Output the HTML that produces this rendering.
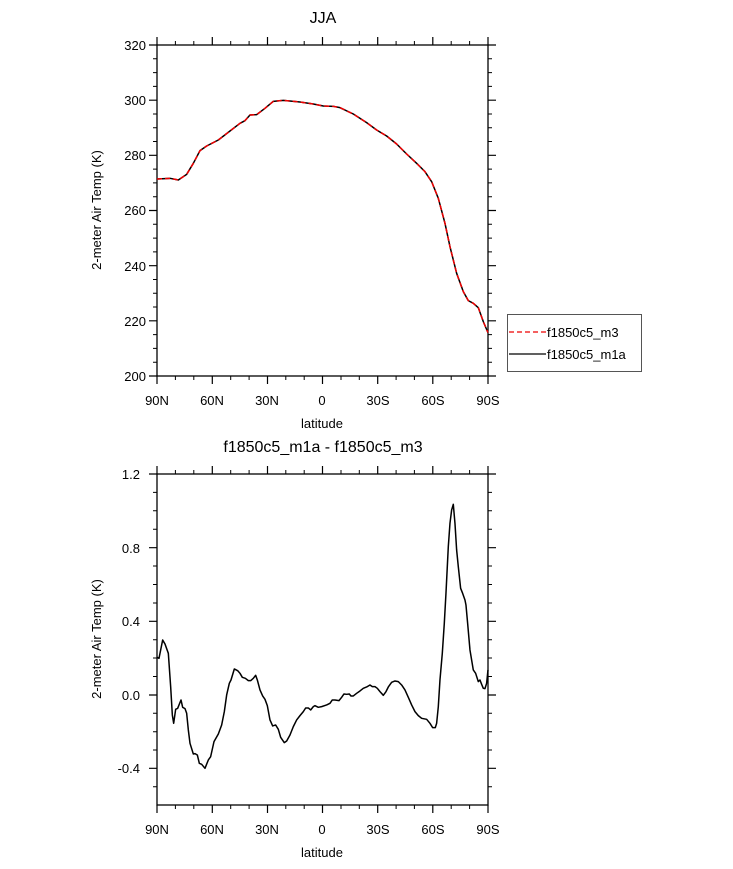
<!DOCTYPE html>
<html><head><meta charset="utf-8"><style>body{margin:0;background:#fff}svg{display:block}</style></head><body>
<svg width="733" height="869" xmlns="http://www.w3.org/2000/svg" font-family="Liberation Sans, sans-serif">
<rect width="733" height="869" fill="#fff"/>
<defs>
<g id="xt" stroke="#000" stroke-width="1.2">
<path d="M157,0v-8M212.3,0v-8M267.5,0v-8M322.5,0v-8M377.7,0v-8M432.8,0v-8M488,0v-8"/>
<path stroke-width="1" d="M175.4,0v-4M193.8,0v-4M230.7,0v-4M249.1,0v-4M285.8,0v-4M304.2,0v-4M341,0v-4M359.3,0v-4M396.1,0v-4M414.4,0v-4M451.2,0v-4M469.6,0v-4"/>
</g>
</defs>
<!-- TOP PLOT -->
<text x="323" y="23" font-size="16" text-anchor="middle">JJA</text>
<rect x="157" y="45" width="331" height="331" fill="none" stroke="#000" stroke-width="1.3"/>
<use href="#xt" transform="translate(0,45)"/>
<use href="#xt" transform="translate(0,376) scale(1,-1)"/>
<g stroke="#000" stroke-width="1.2">
<path d="M157,45h-8M157,100.2h-8M157,155.3h-8M157,210.5h-8M157,265.7h-8M157,320.8h-8M157,376h-8"/>
<path d="M488,45h8M488,100.2h8M488,155.3h8M488,210.5h8M488,265.7h8M488,320.8h8M488,376h8"/>
<path stroke-width="1" d="M157,58.8h-4M157,72.6h-4M157,86.4h-4M157,114h-4M157,127.8h-4M157,141.5h-4M157,169.1h-4M157,182.9h-4M157,196.7h-4M157,224.3h-4M157,238.1h-4M157,251.9h-4M157,279.5h-4M157,293.2h-4M157,307h-4M157,334.6h-4M157,348.4h-4M157,362.2h-4"/>
<path stroke-width="1" d="M488,58.8h4M488,72.6h4M488,86.4h4M488,114h4M488,127.8h4M488,141.5h4M488,169.1h4M488,182.9h4M488,196.7h4M488,224.3h4M488,238.1h4M488,251.9h4M488,279.5h4M488,293.2h4M488,307h4M488,334.6h4M488,348.4h4M488,362.2h4"/>
</g>
<g font-size="13" text-anchor="end">
<text x="146" y="50">320</text><text x="146" y="105">300</text><text x="146" y="160">280</text><text x="146" y="215">260</text><text x="146" y="271">240</text><text x="146" y="326">220</text><text x="146" y="381">200</text>
</g>
<g font-size="13" text-anchor="middle">
<text x="157" y="405">90N</text><text x="212" y="405">60N</text><text x="267" y="405">30N</text><text x="322" y="405">0</text><text x="378" y="405">30S</text><text x="433" y="405">60S</text><text x="488" y="405">90S</text>
<text x="322" y="428">latitude</text>
</g>
<text transform="translate(101,210) rotate(-90)" font-size="13" text-anchor="middle">2-meter Air Temp (K)</text>
<g transform="translate(140,30) scale(0.3333)" fill="none" stroke-width="4.5" stroke-linejoin="round">
<path id="tc" stroke="#000" d="M51,447 L90,445 L115,450 L140,433 L160,400 L180,362 L200,348 L235,330 L270,303 L300,280 L315,272 L330,255 L350,254 L375,235 L400,214 L430,211 L480,216 L520,222 L550,228 L580,229 L600,233 L640,252 L680,278 L710,300 L740,318 L770,342 L800,372 L830,400 L855,425 L875,455 L895,505 L915,580 L930,650 L950,730 L970,785 L985,812 L1000,820 L1015,833 L1030,875 L1044,908"/>
<path stroke="#e00" stroke-dasharray="15,9" d="M51,447 L90,445 L115,450 L140,433 L160,400 L180,362 L200,348 L235,330 L270,303 L300,280 L315,272 L330,255 L350,254 L375,235 L400,214 L430,211 L480,216 L520,222 L550,228 L580,229 L600,233 L640,252 L680,278 L710,300 L740,318 L770,342 L800,372 L830,400 L855,425 L875,455 L895,505 L915,580 L930,650 L950,730 L970,785 L985,812 L1000,820 L1015,833 L1030,875 L1044,908"/>
</g>
<!-- legend -->
<rect x="507.5" y="314.5" width="134" height="57" fill="#fff" stroke="#555" stroke-width="1"/>
<path d="M509,332h37" stroke="#e00" stroke-width="1.3" stroke-dasharray="5,3"/>
<path d="M509,354h37" stroke="#000" stroke-width="1.3"/>
<text x="547" y="337" font-size="13">f1850c5_m3</text>
<text x="547" y="359" font-size="13">f1850c5_m1a</text>
<!-- BOTTOM PLOT -->
<text x="323" y="452" font-size="16" text-anchor="middle">f1850c5_m1a - f1850c5_m3</text>
<rect x="157" y="474" width="331" height="331" fill="none" stroke="#000" stroke-width="1.3"/>
<use href="#xt" transform="translate(0,474)"/>
<use href="#xt" transform="translate(0,805) scale(1,-1)"/>
<g stroke="#000" stroke-width="1.2">
<path d="M157,474h-8M157,547.7h-8M157,621.3h-8M157,695h-8M157,768.3h-8"/>
<path d="M488,474h8M488,547.7h8M488,621.3h8M488,695h8M488,768.3h8"/>
<path stroke-width="1" d="M157,492.4h-4M157,510.8h-4M157,529.2h-4M157,566h-4M157,584.5h-4M157,603h-4M157,639.7h-4M157,658h-4M157,676.5h-4M157,713.3h-4M157,731.7h-4M157,750h-4M157,786.7h-4"/>
<path stroke-width="1" d="M488,492.4h4M488,510.8h4M488,529.2h4M488,566h4M488,584.5h4M488,603h4M488,639.7h4M488,658h4M488,676.5h4M488,713.3h4M488,731.7h4M488,750h4M488,786.7h4"/>
</g>
<g font-size="13" text-anchor="end">
<text x="140" y="479">1.2</text><text x="140" y="553">0.8</text><text x="140" y="626">0.4</text><text x="140" y="700">0.0</text><text x="140" y="773">-0.4</text>
</g>
<g font-size="13" text-anchor="middle">
<text x="157" y="834">90N</text><text x="212" y="834">60N</text><text x="267" y="834">30N</text><text x="322" y="834">0</text><text x="378" y="834">30S</text><text x="433" y="834">60S</text><text x="488" y="834">90S</text>
<text x="322" y="857">latitude</text>
</g>
<text transform="translate(101,639) rotate(-90)" font-size="13" text-anchor="middle">2-meter Air Temp (K)</text>
<g transform="translate(140,460) scale(0.3333)" fill="none" stroke="#000" stroke-width="4.5" stroke-linejoin="round">
<path d="M51,592 L57,595 L68,540 L75,552 L85,580 L92,680 L97,765 L101,790 L107,748 L113,745 L123,720 L128,742 L135,746 L140,760 L145,810 L150,850 L160,882 L165,881 L172,885 L178,910 L185,913 L195,925 L205,900 L212,890 L222,845 L235,822 L245,795 L253,755 L260,705 L268,670 L273,660 L283,627 L293,632 L300,640 L307,652 L316,655 L325,662 L332,662 L340,655 L347,646 L352,660 L360,690 L368,708 L375,718 L382,737 L390,780 L398,798 L407,795 L415,808 L422,832 L433,848 L440,843 L450,825 L460,800 L470,780 L480,767 L490,755 L497,744 L505,744 L512,750 L520,740 L525,737 L535,742 L545,740 L560,735 L570,730 L577,720 L585,720 L597,722 L605,712 L612,702 L620,703 L628,702 L633,708 L640,708 L650,700 L660,693 L670,685 L680,681 L690,675 L697,680 L705,680 L712,685 L720,695 L730,706 L738,695 L745,681 L755,667 L765,663 L775,665 L785,675 L795,690 L805,712 L815,735 L825,755 L835,767 L845,775 L860,778 L870,790 L878,803 L886,803 L890,790 L895,740 L900,660 L907,580 L913,490 L918,400 L925,260 L930,190 L935,150 L940,133 L945,190 L950,270 L955,320 L962,385 L968,400 L975,420 L978,435 L983,490 L990,570 L1000,630 L1007,640 L1015,665 L1020,660 L1025,673 L1030,685 L1035,686 L1040,670 L1044,630"/>
</g>
</svg>
</body></html>
